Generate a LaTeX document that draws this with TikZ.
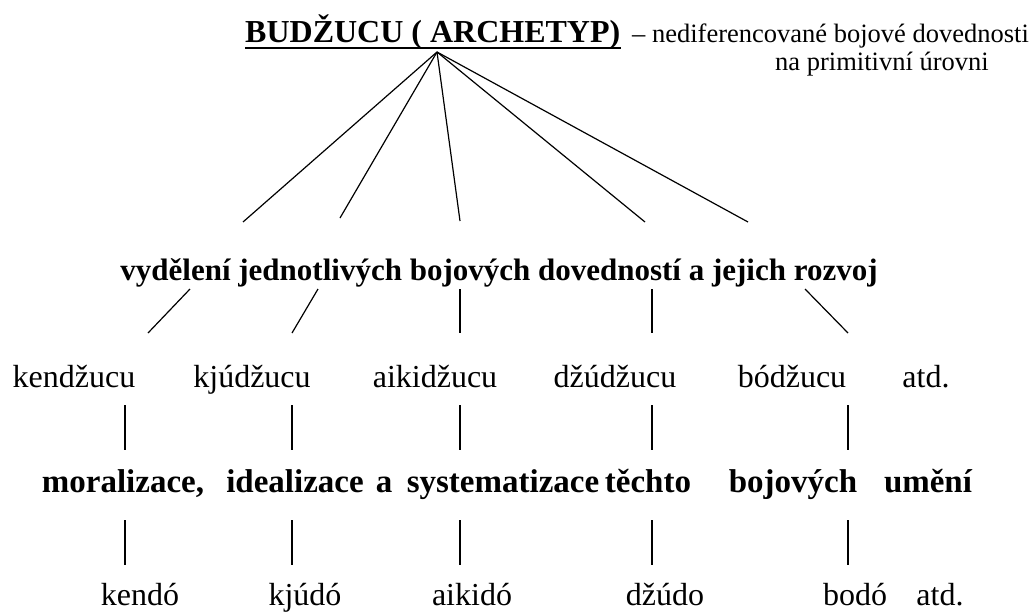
\documentclass[tikz,border=0pt]{standalone}
\usepackage{fontspec}
\setmainfont{Liberation Serif}
\begin{document}
\begin{tikzpicture}[x=1pt,y=-1pt,
  word/.style={inner sep=0pt, anchor=base, font=\fontsize{32}{36}\selectfont},
  head/.style={inner sep=0pt, anchor=base, font=\fontsize{31}{36}\selectfont\bfseries},
  stage/.style={inner sep=0pt, anchor=base, font=\fontsize{33}{36}\selectfont\bfseries},
  note/.style={inner sep=0pt, anchor=base west, font=\fontsize{26.5}{30}\selectfont},
  link/.style={line width=1.2pt}]
\useasboundingbox (0,0) rectangle (1035,613);

% top heading with its note
\node[inner sep=0pt, anchor=base west, font=\fontsize{32}{36}\selectfont\bfseries] (title) at (245,42) {BUDŽUCU ( ARCHETYP)};
\draw[line width=2.5pt] ([yshift=-6pt]title.base west) -- ([yshift=-6pt]title.base east);
\node[note] (note1) at (632,42) {– nediferencované bojové dovednosti};
\node[note] (note2) at (775,70) {na primitivní úrovni};

% second level
\node[head] (split) at (499,280) {vydělení jednotlivých bojových dovedností a jejich rozvoj};

% individual arts
\node[word] (w1) at (74,387) {kendžucu};
\node[word] (w2) at (252,387) {kjúdžucu};
\node[word] (w3) at (435,387) {aikidžucu};
\node[word] (w4) at (615,387) {džúdžucu};
\node[word] (w5) at (792,387) {bódžucu};
\node[word] (w6) at (926,387) {atd.};

% fourth level
\node[stage] (m1) at (123,492) {moralizace,};
\node[stage] (m2) at (295,492) {idealizace};
\node[stage] (m3) at (384,492) {a};
\node[stage] (m4) at (503,492) {systematizace};
\node[stage] (m5) at (648,492) {těchto};
\node[stage] (m6) at (793,492) {bojových};
\node[stage] (m7) at (928,492) {umění};

% resulting ways
\node[word] (d1) at (140,605) {kendó};
\node[word] (d2) at (305,605) {kjúdó};
\node[word] (d3) at (472,605) {aikidó};
\node[word] (d4) at (665,605) {džúdo};
\node[word] (d5) at (855,605) {bodó};
\node[word] (d6) at (940,605) {atd.};

% connector end points
\coordinate (apex) at (437,52);
\coordinate (f1) at (243,222);
\coordinate (f2) at (340,218);
\coordinate (f3) at (460,221);
\coordinate (f4) at (645,222);
\coordinate (f5) at (748,222);

\coordinate (s1) at (190,289); \coordinate (t1) at (148,333);
\coordinate (s2) at (318,289); \coordinate (t2) at (292,333);
\coordinate (s3) at (460,289); \coordinate (t3) at (460,333);
\coordinate (s4) at (652,289); \coordinate (t4) at (652,333);
\coordinate (s5) at (805,289); \coordinate (t5) at (848,333);

\foreach \i/\x in {1/125,2/292,3/460,4/652,5/848}{
  \coordinate (u\i) at (\x,405);
  \coordinate (v\i) at (\x,450);
  \coordinate (p\i) at (\x,520);
  \coordinate (q\i) at (\x,565);
}

\foreach \i in {1,...,5}{
  \draw[link] (apex) -- (f\i);
  \draw[link] (s\i) -- (t\i);
  \draw[link] (u\i) -- (v\i);
  \draw[link] (p\i) -- (q\i);
}
\end{tikzpicture}
\end{document}
